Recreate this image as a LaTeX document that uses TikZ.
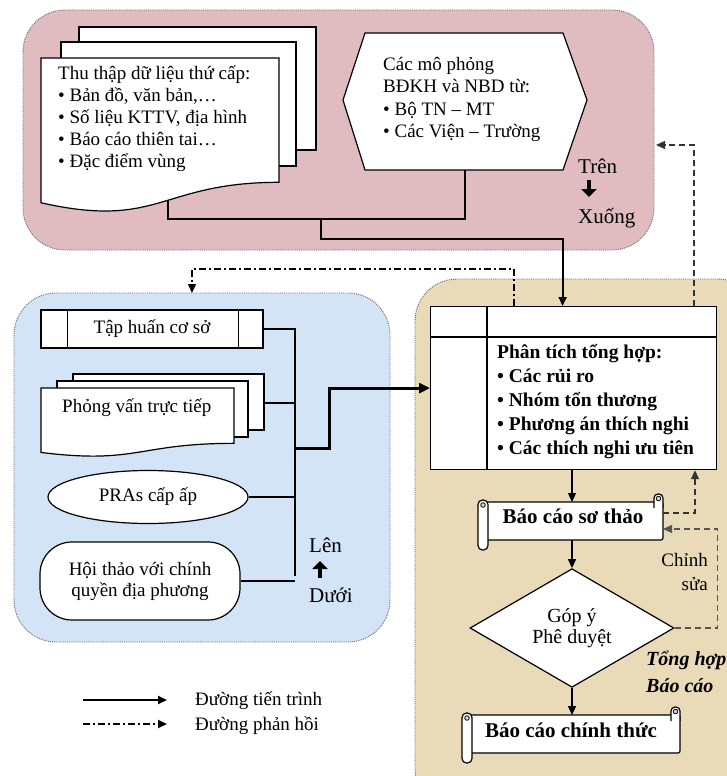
\documentclass[tikz,border=0pt]{standalone}
\usepackage{fontspec}
\setmainfont{Liberation Serif}
\usetikzlibrary{arrows.meta,shapes.geometric,calc}

\definecolor{panelPink}{RGB}{224,188,193}
\definecolor{panelBlue}{RGB}{210,228,246}
\definecolor{panelTan}{RGB}{233,218,184}
\definecolor{rimGray}{RGB}{105,105,105}
\definecolor{loopGray}{RGB}{85,85,85}

\newcommand\sizeBody{\fontsize{19}{22}\selectfont}
\newcommand\sizeBig{\fontsize{21}{24}\selectfont}

% page with a wavy lower edge (flowchart "document")
\newcommand\wavypage[4]{%
  \path[outline] (#1,#2) -- (#3,#2) -- (#3,{#2+0.802*#4})
    .. controls ({(#1+#3)/2},{#2+0.802*#4}) and ({(#1+#3)/2},{#2+1.107*#4}) ..
    (#1,{#2+0.934*#4}) -- cycle;}

% horizontal scroll around the box (#1,#2)-(#3,#4)
\newcommand\scrollframe[4]{%
  \path[outline, rounded corners=2pt] ({#1+8},#2) -- (#3,#2) -- (#3,#4) -- ({#1+8},#4) -- cycle;
  \path[outline, rounded corners=4pt] ({#3-9},{#2+6}) -- ({#3-9},{#2-8}) -- (#3,{#2-8}) -- (#3,{#2+6});
  \path[draw=black, line width=0.8pt, fill=gray!35] ({#3-4.5},{#2-3.5}) circle (2.3pt);
  \path[outline, rounded corners=4.5pt] (#1,{#2-2}) rectangle ({#1+10},{#4+10});
  \path[draw=black, line width=0.8pt, fill=gray!35] ({#1+5},{#2+3}) circle (2.3pt);}

\tikzset{
  panel/.style={draw=rimGray, densely dotted, line width=0.9pt, rounded corners=42pt},
  outline/.style={draw=black, line width=1.2pt, fill=white},
  wire/.style={draw=black, line width=1.3pt},
  flow/.style={wire, -{Triangle[length=9pt,width=8pt]}},
  fbdash/.style={draw=black!80, line width=1.3pt, dash pattern=on 6pt off 4pt,
    -{Triangle[length=9pt,width=8pt]}},
  fbdashdot/.style={draw=black, line width=1.3pt, dash pattern=on 7pt off 3pt on 2pt off 3pt,
    -{Triangle[length=9pt,width=8pt]}},
  boldarrow/.style={draw=black, line width=4pt, -{Triangle[length=8pt,width=15pt]}},
  txt/.style={inner sep=0pt, font=\sizeBody},
}

\begin{document}
\begin{tikzpicture}[x=1pt,y=-1pt]
\useasboundingbox (0,0) rectangle (727,776);
\clip (0,0) rectangle (727,776);

% ---------- three working areas ----------
\path[panel, fill=panelPink] (23,10) rectangle (654,250);
\path[panel, fill=panelBlue] (14,293) rectangle (390,642);
\path[panel, fill=panelTan] (415,279) rectangle (760,810);

% ---------- anchor points ----------
\coordinate (docFoot) at (168,200);
\coordinate (hexFoot) at (465,170);
\coordinate (joinTop) at (321,219);
\coordinate (pinkEdge) at (656,145);
\coordinate (blueTop) at (192,293);
\coordinate (busTop) at (295,330);
\coordinate (busMid) at (295,448);

% ---------- analysis box ----------
\node[outline, minimum width=286pt, minimum height=163pt, anchor=north west, inner sep=0pt] (ana) at (430,306) {};
\draw[line width=1.2pt] ($(ana.north west)+(0,31)$) -- ($(ana.north east)+(0,31)$);
\draw[line width=1.2pt] ($(ana.north west)+(57,0)$) -- ($(ana.south west)+(57,0)$);
\node[txt, font=\fontsize{19.5}{24}\selectfont\bfseries, anchor=north west, align=left] (anaTxt) at (497,344)
  {Phân tích tổng hợp:\\• Các rủi ro\\• Nhóm tổn thương\\• Phương án thích nghi\\• Các thích nghi ưu tiên};
\coordinate (anaIn) at ($(ana.north)+(-11,0)$);
\coordinate (anaTopL) at ($(ana.north west)+(84,0)$);
\coordinate (anaTopR) at ($(ana.north west)+(264,0)$);
\coordinate (anaBotR) at ($(ana.south west)+(265,0)$);

% ---------- top area: secondary data and simulations ----------
\draw[wire] (docFoot) -- ++(0,19) -| (hexFoot);
\draw[flow, line width=1.8pt] (joinTop) -- ++(0,20) -| (anaIn);

\path[outline] (79,27) rectangle (316,150);
\path[outline] (61,42) rectangle (296,166);
\wavypage{41}{58}{279}{155}
\node[txt, anchor=north west, align=left] (dataTxt) at (58,66)
  {Thu thập dữ liệu thứ cấp:\\• Bản đồ, văn bản,…\\• Số liệu KTTV, địa hình\\• Báo cáo thiên tai…\\• Đặc điểm vùng};

\path[outline] (343,100) -- (365,33) -- (563,33) -- (587,100) -- (563,170) -- (365,170) -- cycle;
\node[txt, anchor=north west, align=left, font=\fontsize{19}{22.5}\selectfont] (simTxt) at (383,57)
  {Các mô phỏng\\BĐKH và NBD từ:\\• Bộ TN – MT\\• Các Viện – Trường};

\node[txt, font=\sizeBig, anchor=base west] (topWord) at (578,173) {Trên};
\node[txt, font=\sizeBig, anchor=base west] (downWord) at (578,223) {Xuống};
\coordinate (topArrowA) at (589,180);
\coordinate (topArrowB) at (589,197);
\draw[boldarrow] (topArrowA) -- (topArrowB);

% ---------- lower-left area: field work ----------
\node[outline, minimum width=222pt, minimum height=38pt, inner sep=0pt, font=\sizeBody] (train) at (152,329) {Tập huấn cơ sở};
\draw[line width=1.2pt] ($(train.north west)+(27,0)$) -- ($(train.south west)+(27,0)$);
\draw[line width=1.2pt] ($(train.north east)+(-25,0)$) -- ($(train.south east)+(-25,0)$);

\node[outline, ellipse, minimum width=200pt, minimum height=53pt, inner sep=0pt, font=\sizeBody] (pra) at (148,497) {PRAs cấp ấp};
\node[outline, rounded corners=32pt, minimum width=200pt, minimum height=78pt, inner sep=0pt,
  align=center, font=\fontsize{19}{21}\selectfont] (meet) at (140,581) {Hội thảo với chính\\quyền địa phương};

\coordinate (iviewEdge) at (264,403);
\coordinate (busLow) at (295,576);
\draw[wire] (train.east) -| (busLow);
\draw[wire] (iviewEdge) -- (iviewEdge -| busTop);
\draw[wire] (pra.east) -- (pra.east -| busTop);
\draw[wire] (meet.east) -- (meet.east -| busTop);
\draw[flow, line width=3pt, -{Triangle[length=11pt,width=10pt]}] (busMid) -- ++(34,0) |- (ana.west);

\path[outline] (73,374) rectangle (264,430);
\path[outline] (57,381) rectangle (248,437);
\wavypage{41}{388}{234}{69}
\node[txt, anchor=base west] (iviewTxt) at (62,412) {Phỏng vấn trực tiếp};

\node[txt, font=\sizeBig, anchor=base west] (upWord) at (309,552) {Lên};
\node[txt, font=\sizeBig, anchor=base west] (lowWord) at (309,602) {Dưới};
\coordinate (upArrowA) at (320,578);
\coordinate (upArrowB) at (320,561);
\draw[boldarrow] (upArrowA) -- (upArrowB);

% ---------- right area: reporting ----------
\scrollframe{478}{502}{663}{540}
\node[txt, font=\fontsize{21}{24}\selectfont\bfseries, anchor=base] (draftTxt) at (573,523) {Báo cáo sơ thảo};
\coordinate (draftTop) at (572,502);
\coordinate (draftBot) at (572,540);
\coordinate (draftOut) at (663,513);
\coordinate (draftIn) at (663,529);

\node[outline, diamond, minimum width=204pt, minimum height=103pt, inner sep=0pt, align=center,
  font=\fontsize{20}{21}\selectfont] (vote) at (572,628) {Góp ý\\Phê duyệt};

\scrollframe{462}{715}{680}{753}
\node[txt, font=\fontsize{21}{24}\selectfont\bfseries, anchor=base] (finalTxt) at (571,737) {Báo cáo chính thức};
\coordinate (finalTop) at (572,715);

\draw[flow] (ana.south -| draftTop) -- (draftTop);
\draw[flow] (draftBot) -- (vote.north);
\draw[flow] (vote.south) -- (finalTop);

\node[txt, anchor=north east, align=right, font=\fontsize{19}{24}\selectfont] (editTxt) at (708,553) {Chỉnh\\sửa};
\node[txt, anchor=north west, align=left, font=\fontsize{20}{27}\selectfont\bfseries\itshape] (sumTxt) at (646,651) {Tổng hợp\\Báo cáo};

% ---------- feedback loops ----------
\draw[fbdash] (anaTopR) |- (pinkEdge);
\draw[fbdashdot] (anaTopL) -- ++(0,-37) -| (blueTop);
\draw[fbdash] (draftOut) -| (anaBotR);
\draw[fbdash, draw=loopGray] (vote.east) -- ++(43,0) |- (draftIn);

% ---------- legend ----------
\coordinate (lgA) at (83,700);
\coordinate (lgB) at (167,700);
\coordinate (lgC) at (83,724);
\coordinate (lgD) at (167,724);
\draw[flow, line width=2pt] (lgA) -- (lgB);
\draw[fbdashdot, line width=2pt] (lgC) -- (lgD);
\node[txt, anchor=base west] (lgTxt1) at (195,705) {Đường tiến trình};
\node[txt, anchor=base west] (lgTxt2) at (195,730) {Đường phản hồi};
\end{tikzpicture}
\end{document}
